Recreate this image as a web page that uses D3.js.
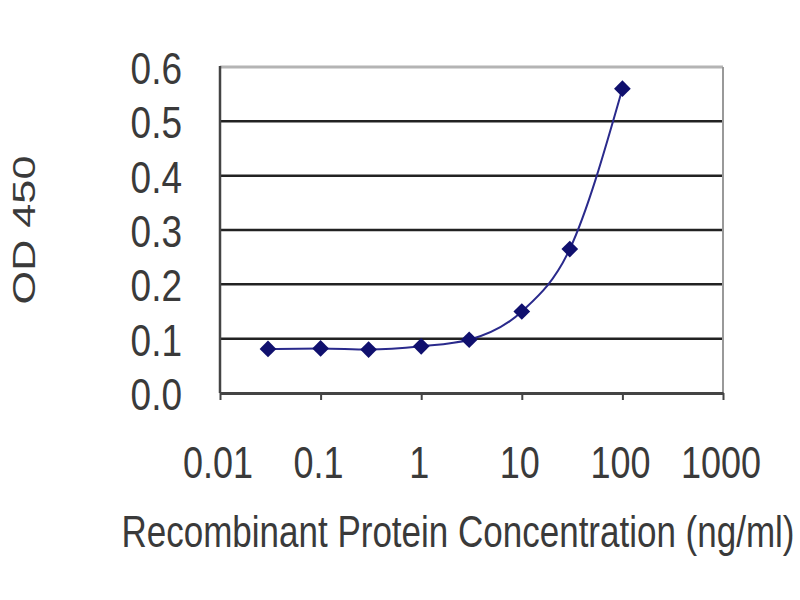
<!DOCTYPE html>
<html>
<head>
<meta charset="utf-8">
<script src="https://cdn.jsdelivr.net/npm/d3@7"></script>
<style>
  html, body { margin: 0; padding: 0; background: #fff; }
  svg text { font-family: "Liberation Sans", Arial, sans-serif; fill: #3a3a3a; }
</style>
</head>
<body>
<div id="chart"></div>
<script>
// concentrations (ng/ml) and measured OD 450
const concentrations = [0.03, 0.1, 0.3, 1, 3, 10, 30, 100];
const od450 = [0.081, 0.082, 0.080, 0.086, 0.098, 0.150, 0.265, 0.560];

// tick labels
const xTicks = [0.01, 0.1, 1, 10, 100, 1000];
const xTickLabels = ["0.01", "0.1", "1", "10", "100", "1000"];
const yTicks = [0, 0.1, 0.2, 0.3, 0.4, 0.5, 0.6];

const width = 800;
const height = 600;
const marginLeft = 220;
const marginRight = 77;
const marginTop = 67;
const marginBottom = 207;

// the picture is a bit stretched vertically, text too
const stretch = 1.22;

const x = d3.scaleLog()
  .domain([0.01, 1000])
  .range([marginLeft, width - marginRight]);

const y = d3.scaleLinear()
  .domain([0, 0.6])
  .range([height - marginBottom, marginTop]);

const svg = d3.select("#chart").append("svg")
  .attr("width", width)
  .attr("height", height);

// horizontal grid lines (0.6 line is the lighter plot border)
svg.append("g")
  .selectAll("line")
  .data(yTicks.filter((d) => d > 0))
  .join("line")
  .attr("x1", x.range()[0])
  .attr("x2", x.range()[1])
  .attr("y1", (d) => y(d))
  .attr("y2", (d) => y(d))
  .attr("stroke", (d) => (d === 0.6 ? "#b4b4b4" : "#222"))
  .attr("stroke-width", (d) => (d === 0.6 ? 3 : 2.5));

// right border
svg.append("line")
  .attr("x1", x.range()[1])
  .attr("x2", x.range()[1])
  .attr("y1", y(0.6))
  .attr("y2", y(0))
  .attr("stroke", "#999")
  .attr("stroke-width", 2);

// left axis line
svg.append("line")
  .attr("x1", x.range()[0])
  .attr("x2", x.range()[0])
  .attr("y1", y(0.6) - 1)
  .attr("y2", y(0))
  .attr("stroke", "#444")
  .attr("stroke-width", 2.5);

// bottom axis with tick marks, labels drawn below
const xAxis = svg.append("g")
  .attr("transform", `translate(0,${y(0)})`)
  .call(d3.axisBottom(x).tickValues(xTicks).tickSize(7).tickSizeOuter(0).tickFormat(""));
xAxis.select(".domain").attr("stroke", "#444").attr("stroke-width", 3);
xAxis.selectAll(".tick line").attr("stroke", "#444").attr("stroke-width", 2);

// x tick labels
svg.append("g")
  .selectAll("text")
  .data(xTicks)
  .join("text")
  .attr("transform", (d) => `translate(${x(d) - 2},478) scale(1,${stretch})`)
  .attr("text-anchor", "middle")
  .style("font-size", "36px")
  .text((d, i) => xTickLabels[i]);

// y tick labels
svg.append("g")
  .selectAll("text")
  .data(yTicks)
  .join("text")
  .attr("transform", (d) => `translate(182,${y(d) + 17}) scale(1,${stretch})`)
  .attr("text-anchor", "end")
  .style("font-size", "37px")
  .text((d) => d3.format(".1f")(d));

// axis titles
svg.append("text")
  .attr("transform", `translate(458,547) scale(1,1.25)`)
  .attr("text-anchor", "middle")
  .style("font-size", "35px")
  .text("Recombinant Protein Concentration (ng/ml)");

svg.append("text")
  .attr("transform", `translate(35,230) rotate(-90) scale(1.35,1)`)
  .attr("text-anchor", "middle")
  .style("font-size", "32px")
  .text("OD 450");

// fitted curve through the points
const points = concentrations.map((c, i) => [x(c), y(od450[i])]);
const line = d3.line().curve(d3.curveMonotoneX);
svg.append("path")
  .attr("d", line(points))
  .attr("fill", "none")
  .attr("stroke", "#2a2a8c")
  .attr("stroke-width", 2);

// diamond markers
const diamond = d3.symbol().type(d3.symbolSquare).size(140);
svg.append("g")
  .selectAll("path")
  .data(points)
  .join("path")
  .attr("transform", ([px, py]) => `translate(${px},${py}) rotate(45)`)
  .attr("d", diamond)
  .attr("fill", "#10106e");
</script>
</body>
</html>
